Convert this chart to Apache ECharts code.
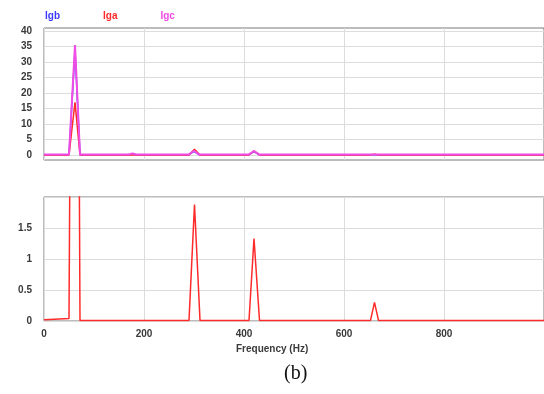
<!DOCTYPE html>
<html><head><meta charset="utf-8">
<script src="https://cdn.jsdelivr.net/npm/echarts@6/dist/echarts.min.js"></script>
<style>html,body{margin:0;padding:0;background:#fff}#c{width:544px;height:394px}</style>
</head><body><div id="c"></div>
<script>
// Data
const seriesNames = ['Igb', 'Iga', 'Igc'];
const topFreq = [0, 50, 52, 62, 72, 170, 177, 184, 290, 300, 310, 410, 420, 430, 1000];
const igbAmp  = [0.1, 0.1, 0.1, 34, 0.1, 0.1, 0.3, 0.1, 0.1, 1.2, 0.1, 0.1, 1.1, 0.1, 0.1];
const igcAmp  = [0.2, 0.2, 0.2, 35.5, 0.2, 0.2, 0.5, 0.2, 0.2, 1.4, 0.2, 0.2, 1.3, 0.2, 0.2];
const igaFreq = [0, 50, 52, 62, 72, 290, 301, 312, 410, 420, 431, 653, 661, 669, 1000];
const igaAmp  = [0.02, 0.04, 0.05, 17, 0.01, 0.01, 1.88, 0.01, 0.01, 1.33, 0.01, 0.01, 0.3, 0.01, 0.01];
const topTicks = [0, 5, 10, 15, 20, 25, 30, 35, 40];
const xTicks = [0, 200, 400, 600, 800];
const xTitle = 'Frequency (Hz)';
const caption = '(b)';

const pairs = (xs, ys) => xs.map((x, i) => [x, ys[i]]);
const colors = { Igb: '#3a3aff', Iga: '#ff2a2a', Igc: '#f04ce6' };
const labelStyle = { color: '#3a3a3a', fontFamily: 'Liberation Sans, Arial, sans-serif', fontWeight: 'bold', fontSize: 10 };
const splitLine = { show: true, lineStyle: { color: '#dcdcdc', width: 1 } };

const chart = echarts.init(document.getElementById('c'), null, { renderer: 'canvas' });
chart.setOption({
  animation: false,
  backgroundColor: '#fff',
  legend: {
    data: seriesNames.map(n => ({ name: n, icon: 'none', textStyle: { color: colors[n] } })),
    left: 35, top: 6, itemWidth: 0, itemHeight: 0, itemGap: 38,
    textStyle: { fontFamily: 'Liberation Sans, Arial, sans-serif', fontWeight: 'bold', fontSize: 10 },
    selectedMode: false
  },
  grid: [
    { left: 44, right: -2, top: 28, height: 132, show: true, borderColor: '#7a7a7a', borderWidth: 1, backgroundColor: '#fff' },
    { left: 44, right: -2, top: 197, height: 124, show: true, borderColor: '#7a7a7a', borderWidth: 1, backgroundColor: '#fff' }
  ],
  xAxis: [
    { type: 'value', gridIndex: 0, min: 0, max: 1000, interval: 200,
      axisLine: { show: false }, axisTick: { show: false }, axisLabel: { show: false }, splitLine },
    { type: 'value', gridIndex: 1, min: 0, max: 1000, interval: 200,
      axisLine: { show: false }, axisTick: { show: false },
      axisLabel: Object.assign({ margin: 8, customValues: xTicks }, labelStyle),
      splitLine }
  ],
  yAxis: [
    { type: 'value', gridIndex: 0, min: -1.6, max: 41,
      axisLine: { show: false }, axisTick: { show: false, customValues: topTicks },
      axisLabel: Object.assign({ margin: 12, customValues: topTicks }, labelStyle),
      splitLine },
    { type: 'value', gridIndex: 1, min: 0, max: 2, interval: 0.5,
      axisLine: { show: false }, axisTick: { show: false },
      axisLabel: Object.assign({ margin: 12, showMaxLabel: false }, labelStyle),
      splitLine }
  ],
  graphic: [
    { type: 'text', left: 236, top: 344, style: { text: xTitle, font: 'bold 10px "Liberation Sans", Arial, sans-serif', fill: '#3a3a3a' } },
    { type: 'text', left: 284, top: 364, style: { text: caption, font: '20px "Liberation Serif", "Times New Roman", serif', fill: '#111' } }
  ],
  series: [
    { name: 'Igb', type: 'line', xAxisIndex: 0, yAxisIndex: 0, data: pairs(topFreq, igbAmp),
      symbol: 'none', lineStyle: { color: colors.Igb, width: 1.5 }, itemStyle: { color: colors.Igb } },
    { name: 'Iga', type: 'line', xAxisIndex: 0, yAxisIndex: 0, data: pairs(igaFreq, igaAmp),
      symbol: 'none', lineStyle: { color: colors.Iga, width: 1.5 }, itemStyle: { color: colors.Iga } },
    { name: 'Igc', type: 'line', xAxisIndex: 0, yAxisIndex: 0, data: pairs(topFreq, igcAmp),
      symbol: 'none', lineStyle: { color: colors.Igc, width: 2 }, itemStyle: { color: colors.Igc } },
    { name: 'Iga', type: 'line', xAxisIndex: 1, yAxisIndex: 1, data: pairs(igaFreq, igaAmp),
      symbol: 'none', clip: true, lineStyle: { color: colors.Iga, width: 1.5 }, itemStyle: { color: colors.Iga } }
  ]
});
</script></body></html>
